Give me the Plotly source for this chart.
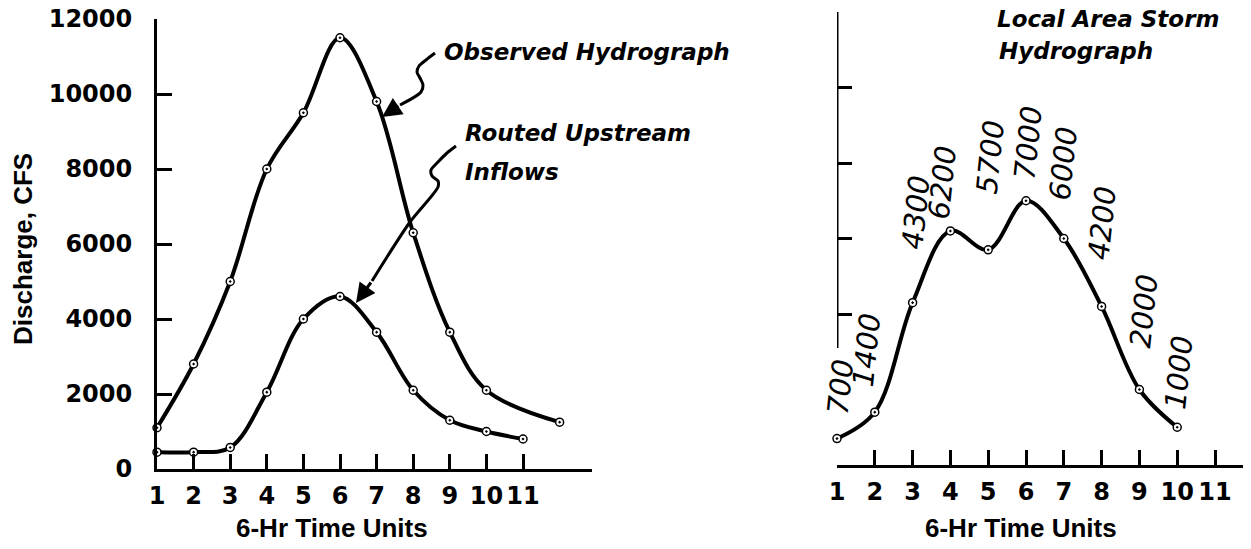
import plotly.graph_objects as go

# ---------------- data ----------------
time_units = [1, 2, 3, 4, 5, 6, 7, 8, 9, 10, 11]
time_labels = ["1", "2", "3", "4", "5", "6", "7", "8", "9", "10", "11"]

observed_x = [1, 2, 3, 4, 5, 6, 7, 8, 9, 10, 12]
observed_q = [1100, 2800, 5000, 8000, 9500, 11500, 9800, 6300, 3650, 2100, 1250]

routed_x = [1, 2, 3, 4, 5, 6, 7, 8, 9, 10, 11]
routed_q = [450, 450, 575, 2050, 4000, 4600, 3650, 2100, 1300, 1000, 800]

local_x = [1, 2, 3, 4, 5, 6, 7, 8, 9, 10]
local_q = [700, 1400, 4300, 6200, 5700, 7000, 6000, 4200, 2000, 1000]

q_ticks = [0, 2000, 4000, 6000, 8000, 10000, 12000]
q_tick_labels = ["0", "2000", "4000", "6000", "8000", "10000", "12000"]

# ---------------- layout helpers ----------------
OFF = 8                      # default body margin of the page
W, H = 1235, 533             # figure size so that the page is exactly 1251 x 549


def fx(px):
    return min(max((px - OFF) / W, 0), 1)


def fy(py):
    return min(max(1 - (py - OFF) / H, 0), 1)


# right panel x-axis: x=1 at 837 px, 37.8 px per unit, ends near page edge
R_X0, R_UNIT = 837, 37.8
R_X1 = min(1247, OFF + W)
r_range_end = 1 + (R_X1 - R_X0) / R_UNIT

# label offsets (pixels) for the rotated value labels on the right panel
label_dx = [3, -8, 3, -8, 2, 2, -1, 1, 4, 2]
label_dy = [-51, -62, -90, -49, -93, -58, -75, -83, -79, -55]

BLACK = "black"
tick_font = dict(family="DejaVu Sans", size=24, color=BLACK, weight="bold")
title_font = dict(family="Liberation Sans", size=26, color=BLACK, weight="bold")
ital_font = dict(family="DejaVu Sans", size=23, color=BLACK, weight="bold", style="italic")
value_font = dict(family="DejaVu Sans", size=29, color=BLACK, style="italic")

marker = dict(symbol="circle-dot", size=8, color="white", line=dict(color=BLACK, width=1.5))
curve = dict(color=BLACK, width=4, shape="spline", smoothing=1.0)

fig = go.Figure()

fig.add_trace(go.Scatter(x=observed_x, y=observed_q, mode="lines+markers", line=curve,
                         marker=marker, xaxis="x", yaxis="y", cliponaxis=False,
                         name="Observed Hydrograph"))
fig.add_trace(go.Scatter(x=routed_x, y=routed_q, mode="lines+markers", line=curve,
                         marker=marker, xaxis="x", yaxis="y", cliponaxis=False,
                         name="Routed Upstream Inflows"))
fig.add_trace(go.Scatter(x=local_x, y=local_q, mode="lines+markers", line=curve,
                         marker=marker, xaxis="x2", yaxis="y2", cliponaxis=False,
                         name="Local Area Storm Hydrograph"))

# leader squiggles drawn in a full-page pixel overlay
obs_leader_x = [435, 426, 419, 417, 420, 423, 421, 400]
obs_leader_y = [53, 60, 66, 72, 78, 85, 92, 105]
rout_leader_x = [456, 447, 438, 431, 432, 438, 438, 410, 372]
rout_leader_y = [146, 153, 162, 170, 176, 181, 187, 222, 281]
for lx, ly in ((obs_leader_x, obs_leader_y), (rout_leader_x, rout_leader_y)):
    fig.add_trace(go.Scatter(x=lx, y=ly, mode="lines", xaxis="x3", yaxis="y3",
                             line=dict(color=BLACK, width=3, shape="spline", smoothing=0.8),
                             hoverinfo="skip", showlegend=False))

axis_common = dict(showgrid=False, zeroline=False, linecolor=BLACK, linewidth=3,
                   ticks="inside", ticklen=15, tickwidth=3, tickcolor=BLACK,
                   tickfont=tick_font, ticklabeloverflow="allow", automargin=False)

fig.update_layout(
    width=W, height=H,
    margin=dict(l=0, r=0, t=0, b=0, autoexpand=False),
    paper_bgcolor="white", plot_bgcolor="rgba(0,0,0,0)",
    showlegend=False,
    xaxis=dict(axis_common, domain=[fx(157), fx(592)], range=[1, 12.885], anchor="y",
               showline=True, tickvals=time_units, ticktext=time_labels,
               ticklabelstandoff=3),
    yaxis=dict(axis_common, domain=[fy(469), fy(19)], range=[0, 12000], anchor="x",
               showline=True, tickvals=q_ticks, ticktext=q_tick_labels,
               ticklabelstandoff=17),
    xaxis2=dict(axis_common, domain=[fx(R_X0), fx(R_X1)], range=[1, r_range_end], anchor="y2",
                showline=True, tickvals=time_units, ticktext=time_labels,
                ticklabelstandoff=3),
    yaxis2=dict(axis_common, domain=[fy(465), fy(12)], range=[0, 12000], anchor="x2",
                showline=False, tickvals=q_ticks[2:], showticklabels=False),
    xaxis3=dict(domain=[0, 1], range=[OFF, OFF + W], visible=False, anchor="y3",
                automargin=False),
    yaxis3=dict(domain=[0, 1], range=[OFF + H, OFF], visible=False, anchor="x3",
                automargin=False),
)

# partial y axis line on right panel (broken below where the first label sits)
fig.add_shape(type="line", xref="x2", yref="y2", x0=1, x1=1, y0=3100, y1=12000,
              line=dict(color=BLACK, width=3))

ann = []
# axis titles
ann.append(dict(text="Discharge, CFS", x=23, y=249, xref="x3", yref="y3", textangle=-90,
                showarrow=False, font=title_font))
ann.append(dict(text="6-Hr Time Units", x=332, y=528, xref="x3", yref="y3",
                showarrow=False, font=title_font))
ann.append(dict(text="6-Hr Time Units", x=1021, y=528, xref="x3", yref="y3",
                showarrow=False, font=title_font))
# italic callouts
for txt, x, y in (("Observed Hydrograph", 442, 52), ("Routed Upstream", 463, 133),
                  ("Inflows", 463, 172), ("Local Area Storm", 995, 19),
                  ("Hydrograph", 997, 51)):
    ann.append(dict(text=txt, x=x, y=y, xref="x3", yref="y3", xanchor="left",
                    yanchor="middle", showarrow=False, font=ital_font))
# arrowheads
for tail, tip in (((400, 105), (382, 117)), ((372, 281), (356, 303))):
    ann.append(dict(text="", x=tip[0], y=tip[1], ax=tail[0], ay=tail[1], xref="x3", yref="y3",
                    axref="x3", ayref="y3", showarrow=True, arrowhead=2, arrowsize=1.3,
                    arrowwidth=3, arrowcolor=BLACK, standoff=0))
# rotated value labels
for xv, qv, dx, dy in zip(local_x, local_q, label_dx, label_dy):
    ann.append(dict(text=str(qv), x=xv, y=qv, xref="x2", yref="y2", xshift=dx, yshift=-dy,
                    textangle=-84, showarrow=False, font=value_font))
fig.update_layout(annotations=ann)

fig.write_html("out.html", config={"displayModeBar": False})
